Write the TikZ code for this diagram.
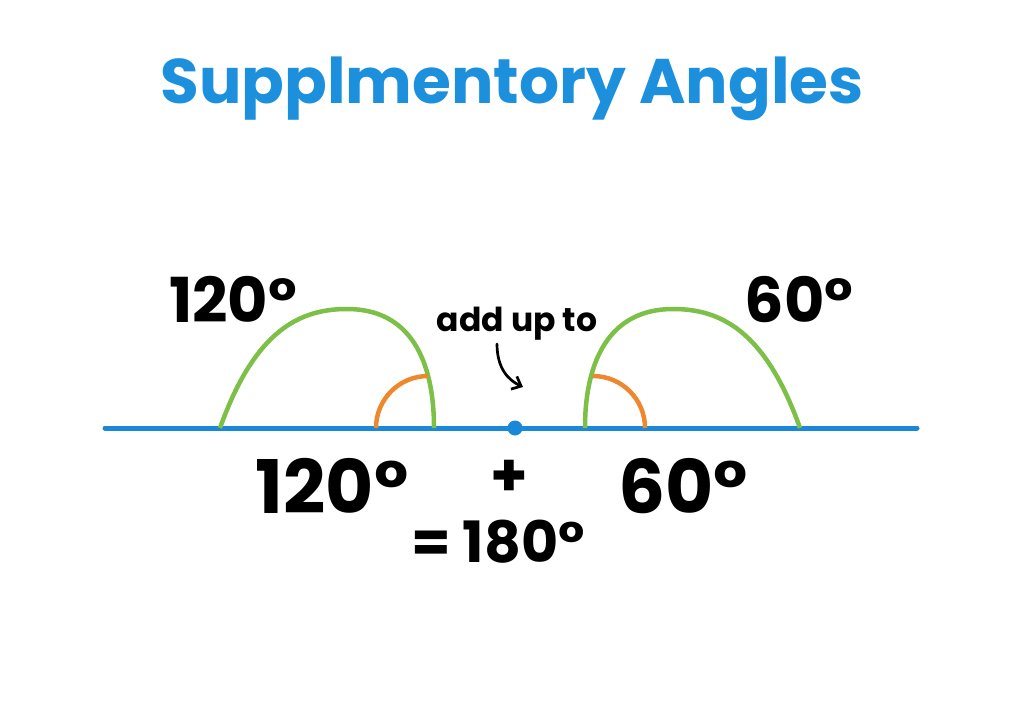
\documentclass[tikz,border=0pt]{standalone}
\usepackage{fontspec}
\setmainfont{Poppins}
\usepackage{tikz}
\usetikzlibrary{arrows.meta}
\definecolor{titleblue}{RGB}{28,144,220}
\definecolor{lineblue}{RGB}{26,136,216}
\definecolor{arcgreen}{RGB}{124,192,72}
\definecolor{arcorange}{RGB}{238,136,46}

\begin{document}
\begin{tikzpicture}[x=1pt,y=-1pt,
    label/.style={anchor=base,font=\bfseries,inner sep=0pt},
    bigarc/.style={draw=arcgreen,line width=4.5pt},
    smallarc/.style={draw=arcorange,line width=4.5pt}]
      \useasboundingbox[fill=white] (0,0) rectangle (1024,702);
      % title
      \node [label,text=titleblue,font=\bfseries\fontsize{63}{66}\selectfont] (title) at (512,103) {Supplmentory Angles};
      % the straight line and its vertex
      \coordinate (lend) at (105,428);
      \coordinate (rend) at (917,428);
      \draw [lineblue,line width=5pt,line cap=round] (lend) -- (rend);
      \node [circle,fill=lineblue,minimum size=15pt,inner sep=0pt] (vertex) at (515,428) {};
      % left angle
      \draw [bigarc] (220,428) .. controls (255,330) and (300,309) .. (347,309)
            .. controls (410,309) and (434,360) .. (434,428);
      \draw [smallarc] (376,428) arc[start angle=180,end angle=270,radius=52];
      % right angle
      \draw [bigarc] (585,428) .. controls (585,360) and (610,309) .. (673,309)
            .. controls (720,309) and (765,330) .. (800,428);
      \draw [smallarc] (593,376) arc[start angle=270,end angle=360,radius=52];
      % labels above
      \node [label,font=\bfseries\fontsize{62}{66}\selectfont] (lefttop) at (233,322) {120°};
      \node [label,font=\bfseries\fontsize{62}{66}\selectfont] (righttop) at (799,322) {60°};
      \node [label,font=\bfseries\fontsize{33}{36}\selectfont] (addup) at (517,331) {add up to};
      \coordinate (tail) at (497,344);
      \coordinate (tip) at (523,387);
      \draw [-{Straight Barb[length=8pt,width=14pt]},line width=2.7pt,line cap=round]
            (tail) .. controls (497,368) and (508,380) .. (tip);
      % sum below
      \node [label,font=\bfseries\fontsize{74}{78}\selectfont] (leftsum) at (332,513) {120°};
      \node [label,font=\bfseries\fontsize{60}{64}\selectfont] (plus) at (509,496) {+};
      \node [label,font=\bfseries\fontsize{74}{78}\selectfont] (rightsum) at (683,513) {60°};
      \node [label,font=\bfseries\fontsize{57}{60}\selectfont] (total) at (498,562) {= 180°};
\end{tikzpicture}
\end{document}
